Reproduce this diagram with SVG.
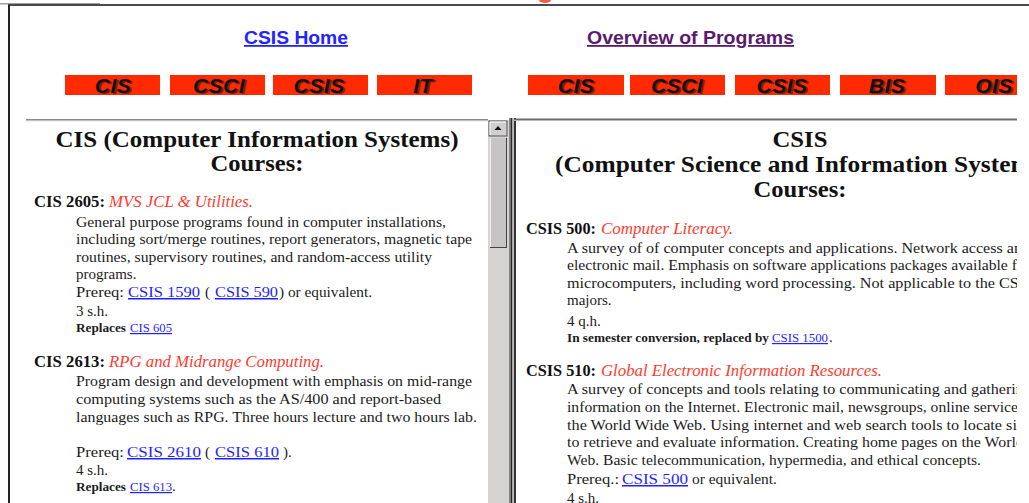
<svg xmlns="http://www.w3.org/2000/svg" width="1029" height="503" viewBox="0 0 1029 503">
<defs>
<style>
.body{font-family:"Liberation Serif","Times New Roman",serif;font-size:15px;fill:#1c1c1c}
.hd{font-family:"Liberation Serif","Times New Roman",serif;font-size:16.5px;font-weight:bold;fill:#111}
.red{font-family:"Liberation Serif","Times New Roman",serif;font-size:16px;font-style:italic;fill:#ff3b2e}
.lnk{fill:#1f1fff;text-decoration:underline}
.sm{font-family:"Liberation Serif","Times New Roman",serif;font-size:12px;font-weight:bold;fill:#1c1c1c}
.smlnk{font-family:"Liberation Serif","Times New Roman",serif;font-size:12px;fill:#1f1fff;text-decoration:underline}
.title{font-family:"Liberation Serif","Times New Roman",serif;font-size:22.5px;font-weight:bold;fill:#111;text-anchor:middle}
.btn{fill:#ff2a00}
.bt{font-family:"Liberation Sans",Arial,sans-serif;font-size:21px;font-weight:bold;font-style:italic;text-anchor:middle;fill:#111;letter-spacing:0.5px}
.bts{font-family:"Liberation Sans",Arial,sans-serif;font-size:21px;font-weight:bold;font-style:italic;text-anchor:middle;fill:#6a1a10;opacity:0.8;letter-spacing:0.5px}
.nav{font-family:"Liberation Sans",Arial,sans-serif;font-size:18px;font-weight:bold;text-decoration:underline}
</style>
<clipPath id="rclip"><rect x="516" y="121" width="501" height="382"/></clipPath>
<clipPath id="bclip"><rect x="0" y="70" width="1017" height="30"/></clipPath>
</defs>
<rect width="1029" height="503" fill="#ffffff"/>

<!-- window chrome -->
<g id="chrome">
<ellipse cx="545" cy="0" rx="6" ry="3" fill="#ff5a3c"/>
<rect x="0" y="3" width="100" height="1.5" fill="#a0a0a0"/>
<rect x="8" y="4" width="1021" height="2" fill="#4a4a4a"/>
<rect x="8" y="5" width="2" height="498" fill="#222"/>
</g>

<!-- top navigation -->
<g id="nav">
<text class="nav" x="244" y="44" fill="#2424ff" textLength="104" lengthAdjust="spacingAndGlyphs">CSIS Home</text>
<text class="nav" x="587" y="44" fill="#5a1a6e" textLength="207" lengthAdjust="spacingAndGlyphs">Overview of Programs</text>
</g>

<g id="buttons" clip-path="url(#bclip)">
<rect class="btn" x="65" y="75" width="95" height="20"/>
<rect class="btn" x="170" y="75" width="95" height="20"/>
<rect class="btn" x="273" y="75" width="95" height="20"/>
<rect class="btn" x="377" y="75" width="95" height="20"/>
<rect class="btn" x="528" y="75" width="96" height="20"/>
<rect class="btn" x="630" y="75" width="95" height="20"/>
<rect class="btn" x="735" y="75" width="95" height="20"/>
<rect class="btn" x="840" y="75" width="96" height="20"/>
<rect class="btn" x="945" y="75" width="72" height="20"/>
<g>
<text class="bts" x="115" y="94">CIS</text><text class="bt" x="113" y="93">CIS</text>
<text class="bts" x="221" y="94">CSCI</text><text class="bt" x="219" y="93">CSCI</text>
<text class="bts" x="321" y="94">CSIS</text><text class="bt" x="319" y="93">CSIS</text>
<text class="bts" x="425" y="94">IT</text><text class="bt" x="423" y="93">IT</text>
<text class="bts" x="578" y="94">CIS</text><text class="bt" x="576" y="93">CIS</text>
<text class="bts" x="679" y="94">CSCI</text><text class="bt" x="677" y="93">CSCI</text>
<text class="bts" x="784" y="94">CSIS</text><text class="bt" x="782" y="93">CSIS</text>
<text class="bts" x="889" y="94">BIS</text><text class="bt" x="887" y="93">BIS</text>
<text class="bts" x="996" y="94">OIS</text><text class="bt" x="994" y="93">OIS</text>
</g>
</g>

<!-- left frame -->
<g id="left-frame">
<rect x="26" y="119" width="462" height="1.2" fill="#8a8a8a"/>
<rect x="26" y="120.2" width="462" height="1" fill="#b8b8b8"/>
<text class="title" x="257" y="147" textLength="403" lengthAdjust="spacingAndGlyphs">CIS (Computer Information Systems)</text>
<text class="title" x="257" y="171" textLength="93" lengthAdjust="spacingAndGlyphs">Courses:</text>

<text class="hd" x="34" y="207" textLength="71" lengthAdjust="spacingAndGlyphs">CIS 2605:</text>
<text class="red" x="109" y="207" textLength="144" lengthAdjust="spacingAndGlyphs">MVS JCL &amp; Utilities.</text>
<text class="body" x="76" y="227" textLength="370" lengthAdjust="spacingAndGlyphs">General purpose programs found in computer installations,</text>
<text class="body" x="76" y="244" textLength="396" lengthAdjust="spacingAndGlyphs">including sort/merge routines, report generators, magnetic tape</text>
<text class="body" x="76" y="262" textLength="356" lengthAdjust="spacingAndGlyphs">routines, supervisory routines, and random-access utility</text>
<text class="body" x="76" y="279">programs.</text>
<text class="body" x="76" y="297" textLength="48" lengthAdjust="spacingAndGlyphs">Prereq:</text>
<text class="body lnk" x="128" y="297" textLength="72" lengthAdjust="spacingAndGlyphs">CSIS 1590</text>
<text class="body" x="205" y="297">(</text>
<text class="body lnk" x="215" y="297" textLength="63" lengthAdjust="spacingAndGlyphs">CSIS 590</text>
<text class="body" x="279" y="297" textLength="93" lengthAdjust="spacingAndGlyphs">) or equivalent.</text>
<text class="body" x="76" y="316">3 s.h.</text>
<text class="sm" x="76" y="332" textLength="50" lengthAdjust="spacingAndGlyphs">Replaces</text>
<text class="smlnk" x="130" y="332" textLength="42" lengthAdjust="spacingAndGlyphs">CIS 605</text>

<text class="hd" x="34" y="367" textLength="71" lengthAdjust="spacingAndGlyphs">CIS 2613:</text>
<text class="red" x="109" y="367" textLength="215" lengthAdjust="spacingAndGlyphs">RPG and Midrange Computing.</text>
<text class="body" x="76" y="386" textLength="396" lengthAdjust="spacingAndGlyphs">Program design and development with emphasis on mid-range</text>
<text class="body" x="76" y="404" textLength="365" lengthAdjust="spacingAndGlyphs">computing systems such as the AS/400 and report-based</text>
<text class="body" x="76" y="422" textLength="401" lengthAdjust="spacingAndGlyphs">languages such as RPG. Three hours lecture and two hours lab.</text>
<text class="body" x="76" y="457" textLength="48" lengthAdjust="spacingAndGlyphs">Prereq:</text>
<text class="body lnk" x="127" y="457" textLength="74" lengthAdjust="spacingAndGlyphs">CSIS 2610</text>
<text class="body" x="205" y="457">(</text>
<text class="body lnk" x="215" y="457" textLength="64" lengthAdjust="spacingAndGlyphs">CSIS 610</text>
<text class="body" x="283" y="457">).</text>
<text class="body" x="76" y="475">4 s.h.</text>
<text class="sm" x="76" y="491" textLength="50" lengthAdjust="spacingAndGlyphs">Replaces</text>
<text class="smlnk" x="130" y="491" textLength="42" lengthAdjust="spacingAndGlyphs">CIS 613</text>
<text class="body" x="172" y="491">.</text>
</g>

<!-- scrollbar -->
<g id="scrollbar">
<rect x="488" y="120" width="21" height="383" fill="#d6d3d3"/>
<rect x="489" y="121" width="18" height="15" fill="#cfcfcf" stroke="#555" stroke-width="1"/>
<line x1="490" y1="122" x2="506" y2="122" stroke="#fff"/>
<line x1="490" y1="122" x2="490" y2="135" stroke="#fff"/>
<path d="M494.5 130 L498 126 L501.5 130 Z" fill="#111"/>
<rect x="490" y="138" width="17" height="110" fill="#c6c4c4"/>
<line x1="490.5" y1="138" x2="490.5" y2="248" stroke="#eee"/>
<line x1="506.5" y1="138" x2="506.5" y2="248" stroke="#444"/>
<line x1="490" y1="247.5" x2="507" y2="247.5" stroke="#444"/>
<rect x="509" y="118" width="1.5" height="385" fill="#888"/>
<rect x="510.5" y="118" width="2" height="385" fill="#2a2a2a"/>
<rect x="512.5" y="118" width="1.5" height="385" fill="#bbb"/>
<rect x="514" y="118" width="2" height="385" fill="#333"/>
</g>

<!-- right frame -->
<g id="right-frame">
<rect x="514" y="118.5" width="503" height="1.5" fill="#6a6a6a"/>
<rect x="514" y="120" width="503" height="1" fill="#b8b8b8"/>
<g clip-path="url(#rclip)">
<text class="title" x="800" y="147" textLength="55" lengthAdjust="spacingAndGlyphs">CSIS</text>
<text class="title" x="555" y="172" style="text-anchor:start" textLength="495" lengthAdjust="spacingAndGlyphs">(Computer Science and Information Systems)</text>
<text class="title" x="800" y="197" textLength="93" lengthAdjust="spacingAndGlyphs">Courses:</text>

<text class="hd" x="526" y="234" textLength="70" lengthAdjust="spacingAndGlyphs">CSIS 500:</text>
<text class="red" x="601" y="234" textLength="132" lengthAdjust="spacingAndGlyphs">Computer Literacy.</text>
<text class="body" x="567" y="253" textLength="463" lengthAdjust="spacingAndGlyphs">A survey of of computer concepts and applications. Network access and</text>
<text class="body" x="567" y="270" textLength="463" lengthAdjust="spacingAndGlyphs">electronic mail. Emphasis on software applications packages available for</text>
<text class="body" x="567" y="288" textLength="468" lengthAdjust="spacingAndGlyphs">microcomputers, including word processing. Not applicable to the CSCI</text>
<text class="body" x="567" y="305">majors.</text>
<text class="body" x="567" y="326">4 q.h.</text>
<text class="sm" x="567" y="342" textLength="202" lengthAdjust="spacingAndGlyphs">In semester conversion, replaced by</text>
<text class="smlnk" x="772" y="342" textLength="56" lengthAdjust="spacingAndGlyphs">CSIS 1500</text>
<text class="body" x="829" y="342">.</text>

<text class="hd" x="526" y="376" textLength="70" lengthAdjust="spacingAndGlyphs">CSIS 510:</text>
<text class="red" x="601" y="376" textLength="281" lengthAdjust="spacingAndGlyphs">Global Electronic Information Resources.</text>
<text class="body" x="567" y="394" textLength="465" lengthAdjust="spacingAndGlyphs">A survey of concepts and tools relating to communicating and gathering</text>
<text class="body" x="567" y="412" textLength="461" lengthAdjust="spacingAndGlyphs">information on the Internet. Electronic mail, newsgroups, online services,</text>
<text class="body" x="567" y="430" textLength="468" lengthAdjust="spacingAndGlyphs">the World Wide Web. Using internet and web search tools to locate sites</text>
<text class="body" x="567" y="447" textLength="457" lengthAdjust="spacingAndGlyphs">to retrieve and evaluate information. Creating home pages on the World</text>
<text class="body" x="567" y="465" textLength="414" lengthAdjust="spacingAndGlyphs">Web. Basic telecommunication, hypermedia, and ethical concepts.</text>
<text class="body" x="567" y="484" textLength="52" lengthAdjust="spacingAndGlyphs">Prereq.:</text>
<text class="body lnk" x="622" y="484" textLength="66" lengthAdjust="spacingAndGlyphs">CSIS 500</text>
<text class="body" x="692" y="484" textLength="85" lengthAdjust="spacingAndGlyphs">or equivalent.</text>
<text class="body" x="567" y="503">4 s.h.</text>
</g>
</g>
</svg>
